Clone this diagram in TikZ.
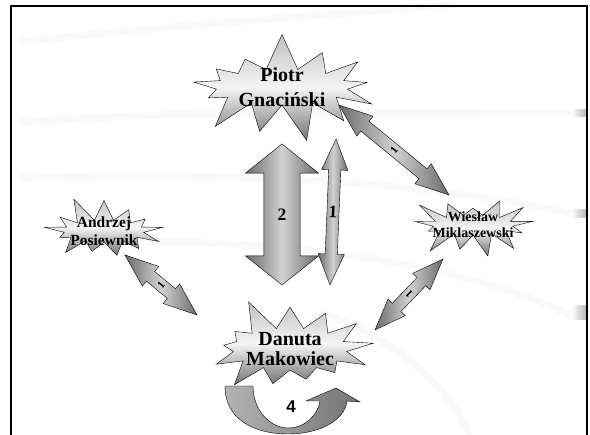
\documentclass[tikz,border=0pt]{standalone}
\usepackage{fontspec}
\setmainfont{Liberation Serif}
\newfontfamily\arialbold{Liberation Sans}
\usetikzlibrary{shapes.symbols,shapes.arrows,positioning}

\begin{document}
\begin{tikzpicture}[x=1pt,y=-1pt,
    burst/.style={starburst,starburst points=13,draw=black,thin,
      top color=black!25,bottom color=black!55,middle color=black!4},
    personlabel/.style={font=\bfseries,align=center},
    twoway/.style={double arrow,draw=black,thin,inner xsep=0pt,
      left color=black!58,right color=black!58,middle color=black!18},
    bgarc/.style={gray!5,line width=7pt},
    edgemark/.style={left color=white,right color=gray!55}]
  \useasboundingbox (0,0) rectangle (590,435);
  \draw[bgarc] (20,42) .. controls (200,22) and (350,14) .. (460,4);
  \draw[bgarc] (20,122) .. controls (200,112) .. (572,113);
  \draw[bgarc] (20,178) .. controls (250,170) and (450,185) .. (572,214);
  \draw[bgarc] (150,242) .. controls (350,242) and (500,280) .. (572,316);
  \draw[bgarc] (320,312) .. controls (400,340) and (450,390) .. (470,435);
  \foreach \y/\h in {110/7,210/8,306/14}
    \shade[edgemark] (571,\y) rectangle (586,\y+\h);
  \draw[line width=2.2pt] (11,435) -- (11,6) -- (587,6) -- (587,435);

  \shade[draw=black,thin,left color=black!30,right color=black!55,middle color=black!42]
    (225,386) .. controls (225,420) and (255,434) .. (288,434)
    .. controls (320,434) and (345,420) .. (347,401) -- (360,402) -- (336,388)
    -- (306,401) -- (320,401) .. controls (318,415) and (305,428) .. (288,428)
    .. controls (270,428) and (253,410) .. (253,386) -- cycle;
  \node[font=\arialbold\bfseries\fontsize{17}{17}\selectfont] (four) at (291,407) {4};

  \node[burst,random starburst=7,starburst point height=38pt,minimum width=208pt,minimum height=112pt,
    label={[personlabel,font=\bfseries\fontsize{20}{24.5}\selectfont]center:Piotr\\Gnaciński}] (piotr) at (282,87) {};
  \node[burst,random starburst=11,starburst point height=26pt,minimum width=132pt,minimum height=74pt,
    label={[personlabel,font=\bfseries\fontsize{15.5}{18.5}\selectfont]center:Andrzej\\Posiewnik}] (andrzej) at (104,231) {};
  \node[burst,random starburst=23,starburst point height=26pt,minimum width=132pt,minimum height=72pt,
    label={[personlabel,font=\bfseries\fontsize{14}{16}\selectfont]center:Wiesław\\Miklaszewski}] (wieslaw) at (473,225) {};
  \node[burst,random starburst=5,starburst point height=34pt,minimum width=182pt,minimum height=110pt,
    label={[personlabel,font=\bfseries\fontsize{20}{20.5}\selectfont]center:Danuta\\Makowiec}] (danuta) at (290,349) {};

  \node[twoway,rotate=90,minimum height=141pt,inner ysep=13.6pt,double arrow head extend=18.5pt,
    double arrow tip angle=103,font=\bfseries\fontsize{17.5}{17.5}\selectfont] (two) at (282,214.5) {\rotatebox{-90}{2}};
  \node[twoway,rotate=87.6,minimum height=146pt,inner ysep=1.5pt,double arrow head extend=7pt,
    double arrow tip angle=46,font=\bfseries\fontsize{17.5}{17.5}\selectfont] (one) at (333,212) {\rotatebox{-90}{1}};
  \node[twoway,rotate=-39.3,minimum height=142pt,inner ysep=3.4pt,double arrow head extend=6.5pt,
    double arrow tip angle=42,font=\bfseries\fontsize{11}{11}\selectfont] (pw) at (394,150) {\rotatebox{90}{1}};
  \node[twoway,rotate=46.2,minimum height=98pt,inner ysep=3pt,double arrow head extend=6pt,
    double arrow tip angle=42,font=\bfseries\fontsize{11}{11}\selectfont] (wd) at (409,294.5) {\rotatebox{90}{1}};
  \node[twoway,rotate=-39.8,minimum height=94pt,inner ysep=3.4pt,double arrow head extend=6.5pt,
    double arrow tip angle=42,font=\bfseries\fontsize{11}{11}\selectfont] (ad) at (161,285) {\rotatebox{90}{1}};
\end{tikzpicture}
\end{document}
